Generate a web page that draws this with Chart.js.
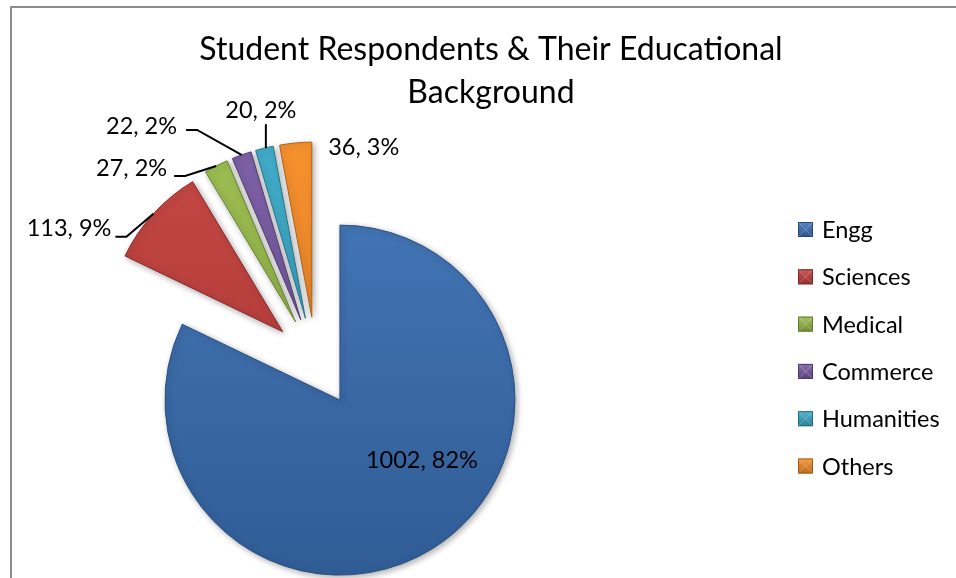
<!DOCTYPE html>
<html>
<head>
<meta charset="utf-8">
<script src="https://cdn.jsdelivr.net/npm/chart.js@4.4.1/dist/chart.umd.min.js"></script>
<style>
  html, body { margin: 0; padding: 0; background: #ffffff; }
  #wrap { position: relative; width: 956px; height: 578px; overflow: hidden; }
  canvas { display: block; }
</style>
</head>
<body>
<div id="wrap"><canvas id="chart" width="956" height="578"></canvas></div>
<script>
// ---- data ----
const categories = ['Engg', 'Sciences', 'Medical', 'Commerce', 'Humanities', 'Others'];
const respondents = [1002, 113, 27, 22, 20, 36];
const titleLines = ['Student Respondents & Their Educational', 'Background'];
const sliceColors = ['#3A70B6', '#C23C39', '#96BB47', '#7657A2', '#36A8C8', '#F78A22'];

const total = respondents.reduce((a, b) => a + b, 0);
const percentText = respondents.map(v => Math.round(v / total * 100) + '%');
const dataLabels = respondents.map((v, i) => v + ', ' + percentText[i]);

// ---- style helpers ----
const FONT = 'Lato, "Open Sans", sans-serif';
const EXPLODE = 45;

function shade(hex, amt) {
  const n = parseInt(hex.slice(1), 16);
  let r = (n >> 16) & 255, g = (n >> 8) & 255, b = n & 255;
  const f = c => amt >= 0 ? Math.round(c + (255 - c) * amt) : Math.round(c * (1 + amt));
  return 'rgb(' + f(r) + ',' + f(g) + ',' + f(b) + ')';
}

function sliceFill(ctx) {
  const chart = ctx.chart;
  const base = sliceColors[ctx.dataIndex];
  const g = chart.ctx.createLinearGradient(0, 140, 0, 580);
  g.addColorStop(0, shade(base, 0.06));
  g.addColorStop(1, shade(base, -0.18));
  return g;
}

// explode every slice along its bisector (pure translation, like Excel)
const explodePlugin = {
  id: 'explode',
  afterDatasetUpdate(chart, args) {
    const meta = chart.getDatasetMeta(args.index);
    meta.data.forEach(arc => {
      const mid = (arc.startAngle + arc.endAngle) / 2;
      arc.x += EXPLODE * Math.cos(mid);
      arc.y += EXPLODE * Math.sin(mid);
    });
  },
  beforeDatasetsDraw(chart) {
    const c = chart.ctx;
    c.save();
    c.shadowColor = 'rgba(0,0,0,0.32)';
    c.shadowBlur = 6;
    c.shadowOffsetX = 2;
    c.shadowOffsetY = 2;
  },
  afterDatasetsDraw(chart) {
    chart.ctx.restore();
  }
};

// title, legend, data labels and frame
const decorPlugin = {
  id: 'decor',
  afterDraw(chart) {
    const c = chart.ctx;
    c.save();
    // frame
    c.fillStyle = '#8c8c8c';
    c.fillRect(10, 6, 946, 2);
    c.fillRect(10, 6, 2, 572);

    // title
    c.fillStyle = '#000';
    c.textAlign = 'center';
    c.textBaseline = 'middle';
    c.font = '32px ' + FONT;
    c.fillText(titleLines[0], 491, 50);
    c.fillText(titleLines[1], 491, 93);

    // legend
    c.font = '23.5px ' + FONT;
    c.textAlign = 'left';
    categories.forEach((name, i) => {
      const cy = 229.5 + i * 47.3;
      const base = sliceColors[i];
      const g = c.createLinearGradient(798, cy - 7.5, 798, cy + 7.5);
      g.addColorStop(0, shade(base, 0.15));
      g.addColorStop(1, shade(base, -0.25));
      c.fillStyle = g;
      c.fillRect(798, cy - 7.5, 15, 15);
      c.strokeStyle = shade(base, -0.35);
      c.lineWidth = 1;
      c.strokeRect(798.5, cy - 7, 14, 14);
      // pyramid bevel diagonals
      c.strokeStyle = 'rgba(255,255,255,0.25)';
      c.beginPath();
      c.moveTo(799, cy - 6.5); c.lineTo(812, cy + 6.5);
      c.moveTo(812, cy - 6.5); c.lineTo(799, cy + 6.5);
      c.stroke();
      c.fillStyle = '#000';
      c.fillText(name, 822, cy + 1);
    });

    // data labels with leader lines
    const meta = chart.getDatasetMeta(0);
    c.strokeStyle = '#000';
    c.lineWidth = 2;
    c.fillStyle = '#000';
    c.font = '23.5px ' + FONT;
    meta.data.forEach((arc, i) => {
      const mid = (arc.startAngle + arc.endAngle) / 2;
      const R = arc.outerRadius;
      const ax = arc.x + R * Math.cos(mid);
      const ay = arc.y + R * Math.sin(mid);
      const text = dataLabels[i];
      let lines = null, tx, ty, align;
      if (i === 0) { tx = arc.x + 82; ty = arc.y + 60; align = 'center'; }
      else if (i === 1) { lines = [[0, 0], [-27, 23], [-38, 23]]; tx = ax - 42; ty = ay + 15; align = 'right'; }
      else if (i === 2) { lines = [[0, 0], [-31, 10], [-42, 10]]; tx = ax - 49; ty = ay + 2; align = 'right'; }
      else if (i === 3) { lines = [[0, 0], [-44.5, -25], [-55.5, -25]]; tx = ax - 64.5; ty = ay - 29; align = 'right'; }
      else if (i === 4) { lines = [[1.5, 0], [1.5, -24]]; tx = ax - 3.5; ty = ay - 38; align = 'center'; }
      else { tx = ax + 32.5; ty = ay + 4; align = 'left'; }
      if (lines) {
        c.beginPath();
        lines.forEach((p, k) => {
          const px = ax + p[0], py = ay + p[1];
          if (k === 0) c.moveTo(px, py); else c.lineTo(px, py);
        });
        c.stroke();
      }
      c.textAlign = align;
      c.textBaseline = 'middle';
      c.fillText(text, tx, ty);
    });
    c.restore();
  }
};

new Chart(document.getElementById('chart'), {
  type: 'pie',
  data: {
    labels: categories,
    datasets: [{
      data: respondents,
      backgroundColor: sliceFill,
      borderColor: sliceColors.map(col => shade(col, -0.3)),
      borderWidth: 1,
      clip: false
    }]
  },
  options: {
    responsive: false,
    animation: false,
    events: [],
    devicePixelRatio: 1,
    radius: 175,
    layout: { padding: { left: 0, right: 324, top: 146, bottom: 0 } },
    plugins: {
      legend: { display: false },
      title: { display: false },
      tooltip: { enabled: false }
    }
  },
  plugins: [explodePlugin, decorPlugin]
});
</script>
</body>
</html>
